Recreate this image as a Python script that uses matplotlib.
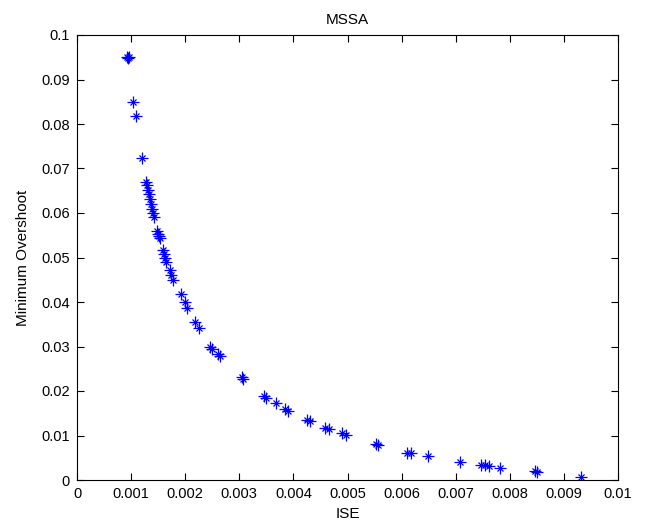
import matplotlib
matplotlib.use("Agg")
import matplotlib.pyplot as plt
import numpy as np

ise = [0.000924, 0.000961, 0.000943, 0.001035, 0.001091, 0.001201, 0.001275, 0.001294,
       0.001312, 0.001331, 0.001349, 0.001368, 0.001386, 0.001405, 0.001423, 0.001479,
       0.001497, 0.001516, 0.001534, 0.001590, 0.001608, 0.001627, 0.001645, 0.001719,
       0.001738, 0.001775, 0.001922, 0.001996, 0.002033, 0.002181, 0.002255, 0.002458,
       0.002495, 0.002606, 0.002643, 0.003050, 0.003068, 0.003457, 0.003494, 0.003678,
       0.003845, 0.003900, 0.004251, 0.004307, 0.004584, 0.004658, 0.004898, 0.004972,
       0.005527, 0.005564, 0.006100, 0.006174, 0.006488, 0.007079, 0.007468, 0.007542,
       0.007616, 0.007819, 0.008466, 0.008503, 0.009316]
overshoot = [0.0951, 0.0951, 0.0948, 0.0849, 0.0818, 0.0724, 0.0670, 0.0663,
             0.0652, 0.0643, 0.0631, 0.0620, 0.0609, 0.0600, 0.0591, 0.0560,
             0.0553, 0.0548, 0.0544, 0.0517, 0.0508, 0.0499, 0.0490, 0.0472,
             0.0461, 0.0449, 0.0418, 0.0400, 0.0387, 0.0355, 0.0342, 0.0299,
             0.0294, 0.0283, 0.0279, 0.0231, 0.0227, 0.0189, 0.0184, 0.0173,
             0.0160, 0.0155, 0.0135, 0.0133, 0.0117, 0.0115, 0.0106, 0.0101,
             0.0081, 0.0079, 0.0061, 0.0061, 0.0054, 0.0040, 0.0034, 0.0034,
             0.0031, 0.0027, 0.0020, 0.0018, 0.0007]

xticks = [0, 0.001, 0.002, 0.003, 0.004, 0.005, 0.006, 0.007, 0.008, 0.009, 0.01]
xticklabels = ["0", "0.001", "0.002", "0.003", "0.004", "0.005", "0.006", "0.007", "0.008", "0.009", "0.01"]
yticks = [0, 0.01, 0.02, 0.03, 0.04, 0.05, 0.06, 0.07, 0.08, 0.09, 0.1]
yticklabels = ["0", "0.01", "0.02", "0.03", "0.04", "0.05", "0.06", "0.07", "0.08", "0.09", "0.1"]

plt.rcParams['font.family'] = ['Liberation Sans', 'DejaVu Sans']

fig = plt.figure(figsize=(6.45, 5.27), dpi=100)
ax = fig.add_axes([77/645, 1 - 480/527, (618-77)/645, (480-35)/527])

# MATLAB-style '*' marker: a plus with shorter diagonals
ax.plot(ise, overshoot, linestyle='none', marker='+', markersize=8.5,
        markeredgewidth=0.9, color='#0000ff')
ax.plot(ise, overshoot, linestyle='none', marker='x', markersize=4.5,
        markeredgewidth=0.9, color='#0000ff')

ax.set_xlim(0, 0.01)
ax.set_ylim(0, 0.1)
ax.set_xticks(xticks)
ax.set_xticklabels(xticklabels)
ax.set_yticks(yticks)
ax.set_yticklabels(yticklabels)
ax.tick_params(direction='in', top=True, right=True, length=5, width=0.8,
               labelsize=10.5, pad=5)
for s in ax.spines.values():
    s.set_linewidth(0.8)

ax.set_title("MSSA", fontsize=11, pad=8)
ax.set_xlabel("ISE", fontsize=11, labelpad=4)
ax.set_ylabel("Minimum Overshoot", fontsize=11, labelpad=8)

fig.savefig("out.png", dpi=100)
